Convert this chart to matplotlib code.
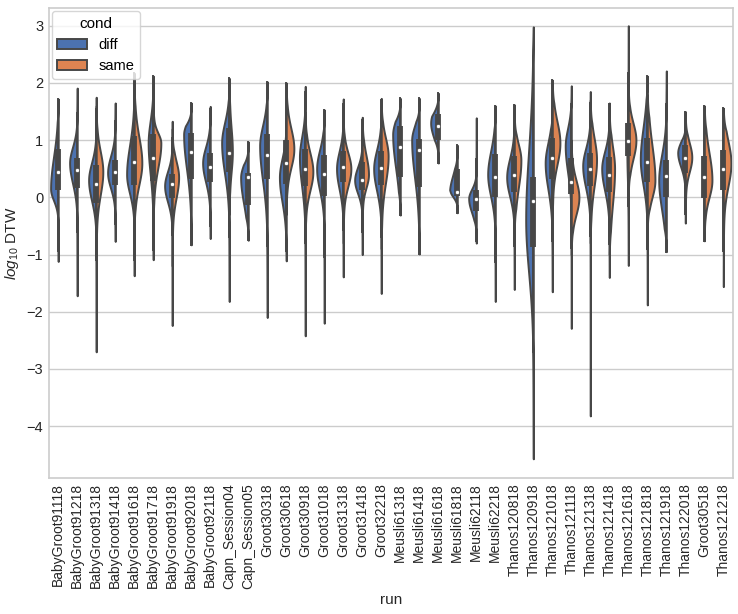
import numpy as np
import matplotlib
matplotlib.use("Agg")
import matplotlib.pyplot as plt
from matplotlib.patches import Patch

runs = ["BabyGroot91118", "BabyGroot91218", "BabyGroot91318", "BabyGroot91418",
        "BabyGroot91618", "BabyGroot91718", "BabyGroot91918", "BabyGroot92018",
        "BabyGroot92118", "Capn_Session04", "Capn_Session05", "Groot30318",
        "Groot30618", "Groot30918", "Groot31018", "Groot31318", "Groot31418",
        "Groot32218", "Meusli61318", "Meusli61418", "Meusli61618", "Meusli61818",
        "Meusli62118", "Meusli62218", "Thanos120818", "Thanos120918", "Thanos121018",
        "Thanos121118", "Thanos121318", "Thanos121418", "Thanos121618", "Thanos121818",
        "Thanos121918", "Thanos122018", "Groot30518", "Thanos121218"]

# combined box per run (both conds together)
box_q1 = [0.13, 0.17, -0.10, 0.21, 0.21, 0.29, -0.02, 0.32, 0.27, 0.45, -0.14, 0.32,
          0.23, 0.19, 0.03, 0.26, 0.13, 0.21, 0.36, 0.18, 1.01, 0.03, -0.23, 0.00,
          0.09, -0.87, 0.32, 0.06, 0.20, 0.10, 0.72, 0.26, 0.00, 0.43, -0.02, 0.12]
box_med = [0.45, 0.48, 0.24, 0.45, 0.62, 0.69, 0.23, 0.80, 0.53, 0.78, 0.35, 0.74,
           0.60, 0.49, 0.40, 0.53, 0.31, 0.51, 0.88, 0.83, 1.24, 0.10, -0.03, 0.35,
           0.39, -0.07, 0.69, 0.27, 0.49, 0.39, 0.98, 0.62, 0.38, 0.69, 0.36, 0.50]
box_q3 = [0.84, 0.69, 0.56, 0.66, 1.08, 1.10, 0.40, 1.12, 0.78, 1.21, 0.43, 1.10,
          1.01, 0.85, 0.74, 0.81, 0.62, 0.81, 1.25, 1.02, 1.46, 0.50, 0.13, 0.75,
          0.72, 0.35, 1.04, 0.69, 0.78, 0.71, 1.30, 1.04, 0.65, 0.91, 0.72, 0.83]

# half violins: (min, body low, mode, body high, max); None = no rows for that cond
diff_shape = [
    (-1.12, -0.25, 0.15, 1.25, 1.72), (-1.72, -0.10, 0.60, 1.15, 1.91),
    (-2.70, -0.40, 0.30, 0.90, 1.75), (-0.77, -0.10, 0.43, 1.00, 1.65),
    (-1.37, -0.25, 0.40, 1.40, 2.17), (-1.09, -0.10, 0.95, 1.70, 2.12),
    (-2.24, -0.35, 0.20, 0.70, 1.33), (-0.83, -0.10, 1.10, 1.50, 1.65),
    (-0.72, -0.05, 0.60, 1.15, 1.59), (-1.82, -0.10, 0.95, 1.65, 2.08),
    (-0.75, -0.55, 0.35, 0.80, 0.97), (-2.10, -0.30, 0.90, 1.60, 2.02),
    (-1.11, -0.50, 0.35, 1.00, 1.50), (-2.42, -0.30, 0.70, 1.40, 1.94),
    (-2.20, -0.25, 0.50, 1.15, 1.53), (-1.39, -0.20, 0.50, 1.10, 1.72),
    (-1.00, -0.15, 0.30, 0.75, 1.20), (-1.68, -0.25, 0.50, 1.15, 1.60),
    (-0.31, -0.05, 1.10, 1.60, 1.73), (-0.99, -0.30, 1.00, 1.50, 1.73),
    (0.60, 0.80, 1.30, 1.75, 1.82), (-0.27, -0.15, 0.09, 0.65, 0.91),
    (-0.80, -0.50, -0.02, 0.30, 1.39), (-1.82, -0.35, 0.40, 1.20, 1.60),
    (-1.61, -0.30, 0.35, 1.00, 1.62), (-4.57, -2.20, -0.40, 2.00, 2.98),
    (-1.65, -0.30, 0.60, 1.30, 1.60), (-2.29, 0.00, 0.90, 1.50, 1.95),
    (-3.82, -0.20, 0.55, 1.15, 1.85), (-1.40, -0.25, 0.50, 1.10, 1.65),
    (-1.19, -0.20, 0.80, 1.80, 3.00), (-1.88, -0.20, 0.66, 1.75, 2.12),
    (-0.95, -0.72, 0.30, 1.18, 2.21), (-0.30, 0.30, 0.78, 1.15, 1.40),
    None, None]
same_shape = [
    None, None,
    (-1.00, -0.35, 0.45, 1.15, 1.60), None,
    (-0.60, -0.15, 0.60, 1.50, 2.00), (-0.50, 0.10, 0.95, 1.30, 1.80),
    (-1.20, -0.35, 0.35, 0.90, 1.20), None,
    None, (-0.30, 0.10, 0.80, 1.60, 2.00),
    None, None,
    (-0.30, 0.20, 0.85, 1.55, 2.00), (-0.80, -0.20, 0.45, 1.10, 1.50),
    None, (-0.80, -0.10, 0.50, 1.05, 1.50),
    (-0.60, -0.05, 0.40, 1.05, 1.40), (-0.90, -0.20, 0.72, 1.35, 1.73),
    None, None, None, None, None, None,
    (-0.60, -0.30, 0.65, 1.20, 1.50), None,
    (-0.50, 0.20, 0.95, 1.70, 2.05), (-1.00, -0.60, 0.00, 0.60, 1.00),
    (-0.80, -0.25, 0.66, 1.40, 1.70), (-1.00, -0.70, 0.50, 1.25, 1.50),
    (0.00, 0.35, 1.00, 1.60, 2.00), (-0.60, -0.30, 0.30, 1.50, 1.80),
    None, (-0.45, 0.20, 0.70, 1.20, 1.50),
    (-0.76, -0.30, 0.30, 1.25, 1.60), (-1.56, -0.20, 0.60, 1.36, 1.56)]
# relative number of rows per half
diff_n = [1] * 30 + [0.3] + [1] * 5
same_n = [1] * 9 + [0.35] + [1] * 26

conds = ["diff", "same"]
colors = {"diff": "#4C72B0", "same": "#DD8452"}
gray = "#474747"

plt.rcParams["font.family"] = ["Liberation Sans", "DejaVu Sans"]
plt.rcParams["mathtext.fontset"] = "custom"
plt.rcParams["mathtext.rm"] = "Liberation Sans"
plt.rcParams["mathtext.it"] = "Liberation Sans:italic"


def density(y, shape):
    lo, blo, mode, bhi, hi = shape
    s_lo = (mode - blo) / 2
    s_hi = (bhi - mode) / 2
    s = np.where(y < mode, s_lo, s_hi)
    norm = np.sqrt(np.pi / 2) * (s_lo + s_hi)
    core = np.exp(-0.5 * ((y - mode) / s) ** 2) / norm
    wide = np.exp(-0.5 * ((y - mode) / (2.0 * s)) ** 2) / (2.0 * norm)
    d = 0.88 * core + 0.12 * wide
    taper = np.clip((y - lo) / 0.4, 0, 1) * np.clip((hi - y) / 0.4, 0, 1)
    return d * taper


fig, ax = plt.subplots(figsize=(7.38, 6.14), dpi=100)
fig.subplots_adjust(left=0.066, right=0.993, top=0.987, bottom=0.222)

lw = 1.4
for i, run in enumerate(runs):
    halves = {"diff": (diff_shape[i], diff_n[i]), "same": (same_shape[i], same_n[i])}
    curves = {}
    for c, (shape, n) in halves.items():
        if shape is None:
            continue
        y = np.linspace(shape[0], shape[4], 300)
        curves[c] = (y, n * density(y, shape))
    peak = max(d.max() for _, d in curves.values())
    for c, (y, d) in curves.items():
        w = 0.4 * d / peak
        side = -1 if c == "diff" else 1
        ax.fill_betweenx(y, i, i + side * w, facecolor=colors[c],
                         edgecolor=gray, linewidth=lw, zorder=1)
    lo_all = min(y.min() for y, _ in curves.values())
    hi_all = max(y.max() for y, _ in curves.values())
    iqr = box_q3[i] - box_q1[i]
    w_lo = max(lo_all, box_q1[i] - 1.5 * iqr)
    w_hi = min(hi_all, box_q3[i] + 1.5 * iqr)
    ax.plot([i, i], [w_lo, w_hi], color=gray, linewidth=lw, zorder=2)
    ax.plot([i, i], [box_q1[i], box_q3[i]], color=gray, linewidth=lw * 3,
            solid_capstyle="butt", zorder=2)
    ax.scatter(i, box_med[i], s=9, color="white", edgecolor=gray,
               linewidth=0.5, zorder=3)

ax.set_xlim(-0.5, len(runs) - 0.5)
ax.set_ylim(-4.9, 3.31)
ax.set_xticks(range(len(runs)))
ax.set_xticklabels(runs, rotation=90, fontsize=10)
ax.set_yticks(range(-4, 4))
ax.tick_params(axis="y", labelsize=10.5)
ax.tick_params(length=0, pad=4, colors="#262626")
ax.yaxis.grid(True, color="#cccccc", linewidth=1)
ax.set_axisbelow(True)
for sp in ax.spines.values():
    sp.set_color("#cccccc")
    sp.set_linewidth(1.2)
ax.set_xlabel("run", fontsize=11, color="#262626", labelpad=3)
ax.set_ylabel("$log_{10}$ DTW", fontsize=11, color="#262626")

handles = [Patch(facecolor=colors[c], edgecolor=gray, linewidth=lw, label=c) for c in conds]
leg = ax.legend(handles=handles, title="cond", loc="upper left", fontsize=10.5,
                title_fontsize=11, frameon=True, borderaxespad=0.2)
leg.get_frame().set_edgecolor("#cccccc")

fig.savefig("out.png", dpi=100, facecolor="white")
